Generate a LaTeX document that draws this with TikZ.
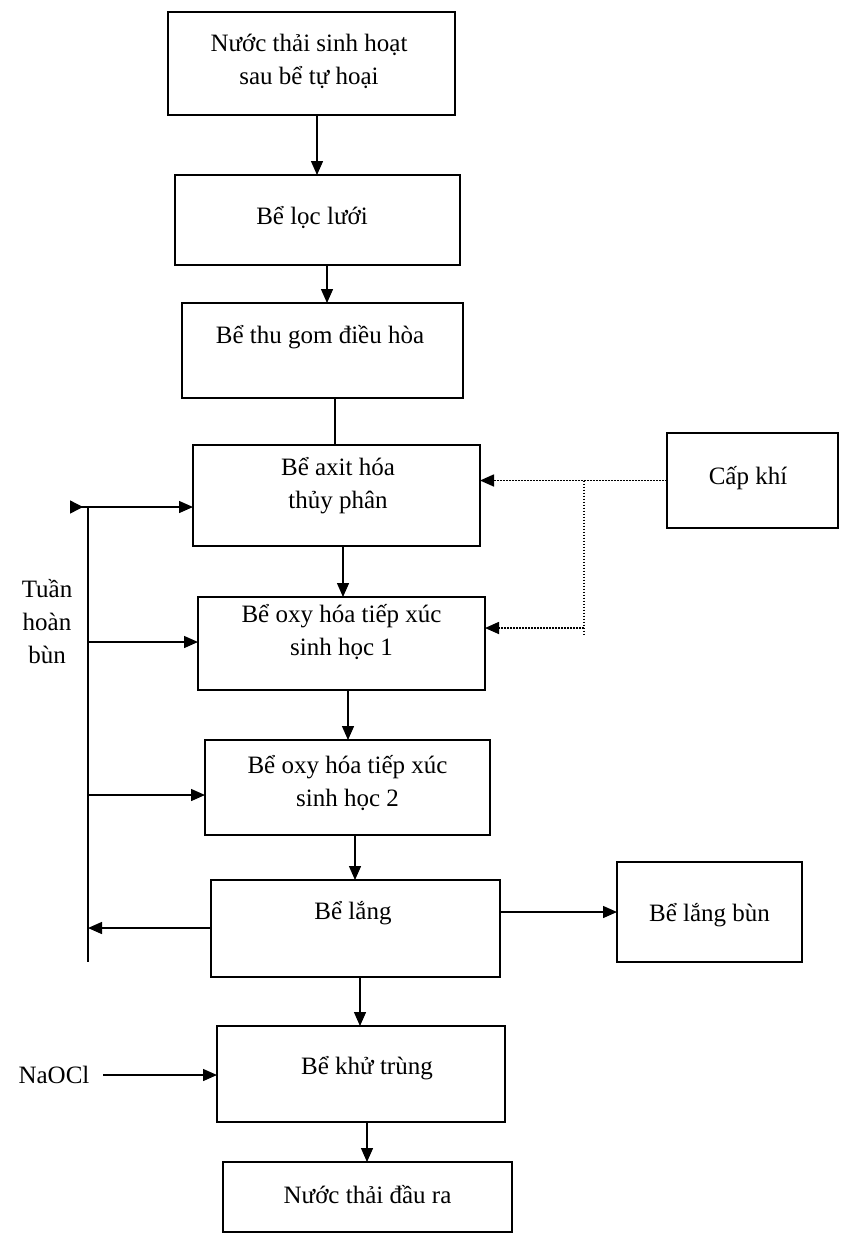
\documentclass[tikz,border=0pt]{standalone}
\usepackage{fontspec}
\setmainfont{Liberation Serif}
\usetikzlibrary{arrows.meta}
\begin{document}
\begin{tikzpicture}[x=1pt,y=-1pt,
  box/.style={draw,line width=1.4pt,rectangle,inner sep=0pt,outer sep=0pt},
  txt/.style={font=\fontsize{25}{33}\selectfont,align=center,inner sep=0pt},
  arr/.style={line width=1.4pt,-{Triangle[length=14pt,width=12pt]}},
  ln/.style={line width=1.4pt},
  dotarr/.style={line width=1.6pt,dash pattern=on 1.6pt off 1.4pt,-{Triangle[length=14pt,width=12pt]}},
  dotln/.style={line width=1.6pt,dash pattern=on 1.6pt off 1.4pt}]
\useasboundingbox (0,0) rectangle (848,1234);
% boxes
\node[box,minimum width=287pt,minimum height=103pt] (b1) at (311.5,63.5) {};
\node[box,minimum width=285pt,minimum height=90pt] (b2) at (317.5,220) {};
\node[box,minimum width=281pt,minimum height=95pt] (b3) at (322.5,350.5) {};
\node[box,minimum width=287pt,minimum height=101pt] (b4) at (336.5,495.5) {};
\node[box,minimum width=287pt,minimum height=93pt] (b5) at (341.5,643.5) {};
\node[box,minimum width=285pt,minimum height=95pt] (b6) at (347.5,787.5) {};
\node[box,minimum width=289pt,minimum height=97pt] (b7) at (355.5,928.5) {};
\node[box,minimum width=288pt,minimum height=96pt] (b8) at (361,1074) {};
\node[box,minimum width=289pt,minimum height=70pt] (b9) at (367.5,1197) {};
\node[box,minimum width=171pt,minimum height=95pt] (air) at (752.5,480.5) {};
\node[box,minimum width=185pt,minimum height=100pt] (sl) at (709.5,912) {};
% texts
\node[txt] (t1) at (309,61) {Nước thải sinh hoạt\\sau bể tự hoại};
\node[txt] (t2) at (312,218) {Bể lọc lưới};
\node[txt] (t3) at (320,337) {Bể thu gom điều hòa};
\node[txt] (t4) at (338,486) {Bể axit hóa\\thủy phân};
\node[txt] (t5) at (341.5,632) {Bể oxy hóa tiếp xúc\\sinh học 1};
\node[txt] (t6) at (347.5,783) {Bể oxy hóa tiếp xúc\\sinh học 2};
\node[txt] (t7) at (353,913) {Bể lắng};
\node[txt] (t8) at (367,1068) {Bể khử trùng};
\node[txt] (t9) at (367.5,1195) {Nước thải đầu ra};
\node[txt] (tair) at (748,478) {Cấp khí};
\node[txt] (tsl) at (709.5,915) {Bể lắng bùn};
\node[txt] (tth) at (47,622) {Tuần\\hoàn\\bùn};
\node[txt] (tna) at (54,1075) {NaOCl};
% helper coordinates
\coordinate (x1) at (317,0);
\coordinate (x2) at (327,0);
\coordinate (x3) at (335,0);
\coordinate (x4) at (343,0);
\coordinate (x5) at (348,0);
\coordinate (x6) at (355,0);
\coordinate (x7) at (360,0);
\coordinate (x8) at (367,0);
% main flow
\draw[arr] (b1.south -| x1) -- (b2.north -| x1);
\draw[arr] (b2.south -| x2) -- (b3.north -| x2);
\draw[ln] (b3.south -| x3) -- (b4.north -| x3);
\draw[arr] (b4.south -| x4) -- (b5.north -| x4);
\draw[arr] (b5.south -| x5) -- (b6.north -| x5);
\draw[arr] (b6.south -| x6) -- (b7.north -| x6);
\draw[arr] (b7.south -| x7) -- (b8.north -| x7);
\draw[arr] (b8.south -| x8) -- (b9.north -| x8);
% air supply
\coordinate (j1) at (584,480.5);
\coordinate (j2) at (584,635);
\coordinate (j3) at (584,628);
\draw[dotarr] (air.west) -- (b4.east |- air.west);
\draw[dotln] (j1) -- (j2);
\draw[dotarr] (j3) -- (b5.east |- j3);
% sludge
\draw[arr] (b7.east |- sl.west) -- (sl.west);
% recirculation
\coordinate (L0) at (88,507);
\coordinate (L1) at (88,962);
\coordinate (TL) at (70,507);
\coordinate (y5) at (0,642);
\coordinate (y6) at (0,795);
\coordinate (y7) at (0,928);
\draw[ln] (L0) -- (L1);
\draw[line width=1.4pt,{Triangle[reversed,length=13pt,width=13pt]}-{Triangle[length=14pt,width=12pt]}] (TL) -- (b4.west |- TL);
\draw[arr] (L0 |- y5) -- (b5.west |- y5);
\draw[arr] (L0 |- y6) -- (b6.west |- y6);
\draw[arr] (b7.west |- y7) -- (L0 |- y7);
% NaOCl
\coordinate (na) at (103,1075);
\draw[arr] (na) -- (b8.west |- na);
\end{tikzpicture}
\end{document}
